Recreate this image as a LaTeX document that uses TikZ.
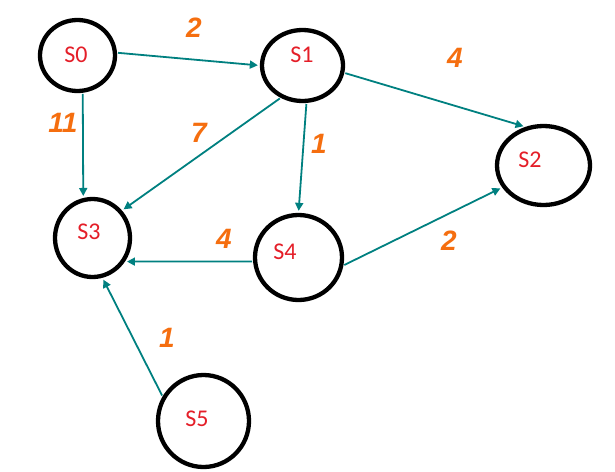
\documentclass[tikz,border=0pt]{standalone}
\usepackage{fontspec}
\setmainfont{Carlito}
\newfontfamily\wfont{Liberation Sans}
\usetikzlibrary{shapes.geometric,arrows.meta}
\definecolor{edgeteal}{RGB}{0,128,128}
\definecolor{wlabel}{RGB}{245,110,15}
\definecolor{sred}{RGB}{228,30,40}
\begin{document}
\begin{tikzpicture}[x=1pt,y=-1pt,
  state/.style={draw=black,line width=4.3pt,ellipse,inner sep=0pt},
  stxt/.style={text=sred,font=\fontsize{24}{24}\selectfont},
  wt/.style={text=wlabel,font=\wfont\fontsize{28}{28}\selectfont\bfseries\itshape},
  edge/.style={draw=edgeteal,line width=1.8pt,-{Triangle[length=8pt,width=8pt]},shorten >=2pt,shorten <=1pt}]
\useasboundingbox (0,0) rectangle (615,471);
\node[state,minimum width=75pt,minimum height=71pt] (s0) at (77.5,55.5) {};
\node[state,minimum width=81pt,minimum height=71pt] (s1) at (302.5,65.5) {};
\node[state,minimum width=93pt,minimum height=79pt] (s2) at (543.5,165.5) {};
\node[state,minimum width=75pt,minimum height=78pt] (s3) at (92.5,238) {};
\node[state,minimum width=87pt,minimum height=85pt] (s4) at (298.5,257.5) {};
\node[state,minimum width=91pt,minimum height=92pt] (s5) at (203.5,421) {};
\node[stxt] (t0) at (76,55) {S0};
\node[stxt] (t1) at (302,55) {S1};
\node[stxt] (t2) at (530,160) {S2};
\node[stxt] (t3) at (89,232) {S3};
\node[stxt] (t4) at (285,252) {S4};
\node[stxt] (t5) at (197,419) {S5};
\draw[edge] (s0.4) -- (s1.180);
\draw[edge] (s0.-82) -- (s3.103);
\draw[edge] (s1.236) -- (s3.43);
\draw[edge] (s1.-84) -- (s4.90);
\draw[edge] (s1.-10) -- (s2.115);
\draw[edge] (s4.-10) -- (s2.208);
\draw[edge] (s4.185) -- (s3.-36);
\draw[edge] (s5.149) -- (s3.-76);
\node[wt] (w01) at (194,28) {2};
\node[wt] (w12) at (455,58) {4};
\node[wt] (w03) at (63,123) {11};
\node[wt] (w13) at (199,133) {7};
\node[wt] (w14) at (319,144) {1};
\node[wt] (w43) at (224,239) {4};
\node[wt] (w42) at (449,241) {2};
\node[wt] (w53) at (167,338) {1};
\end{tikzpicture}
\end{document}
